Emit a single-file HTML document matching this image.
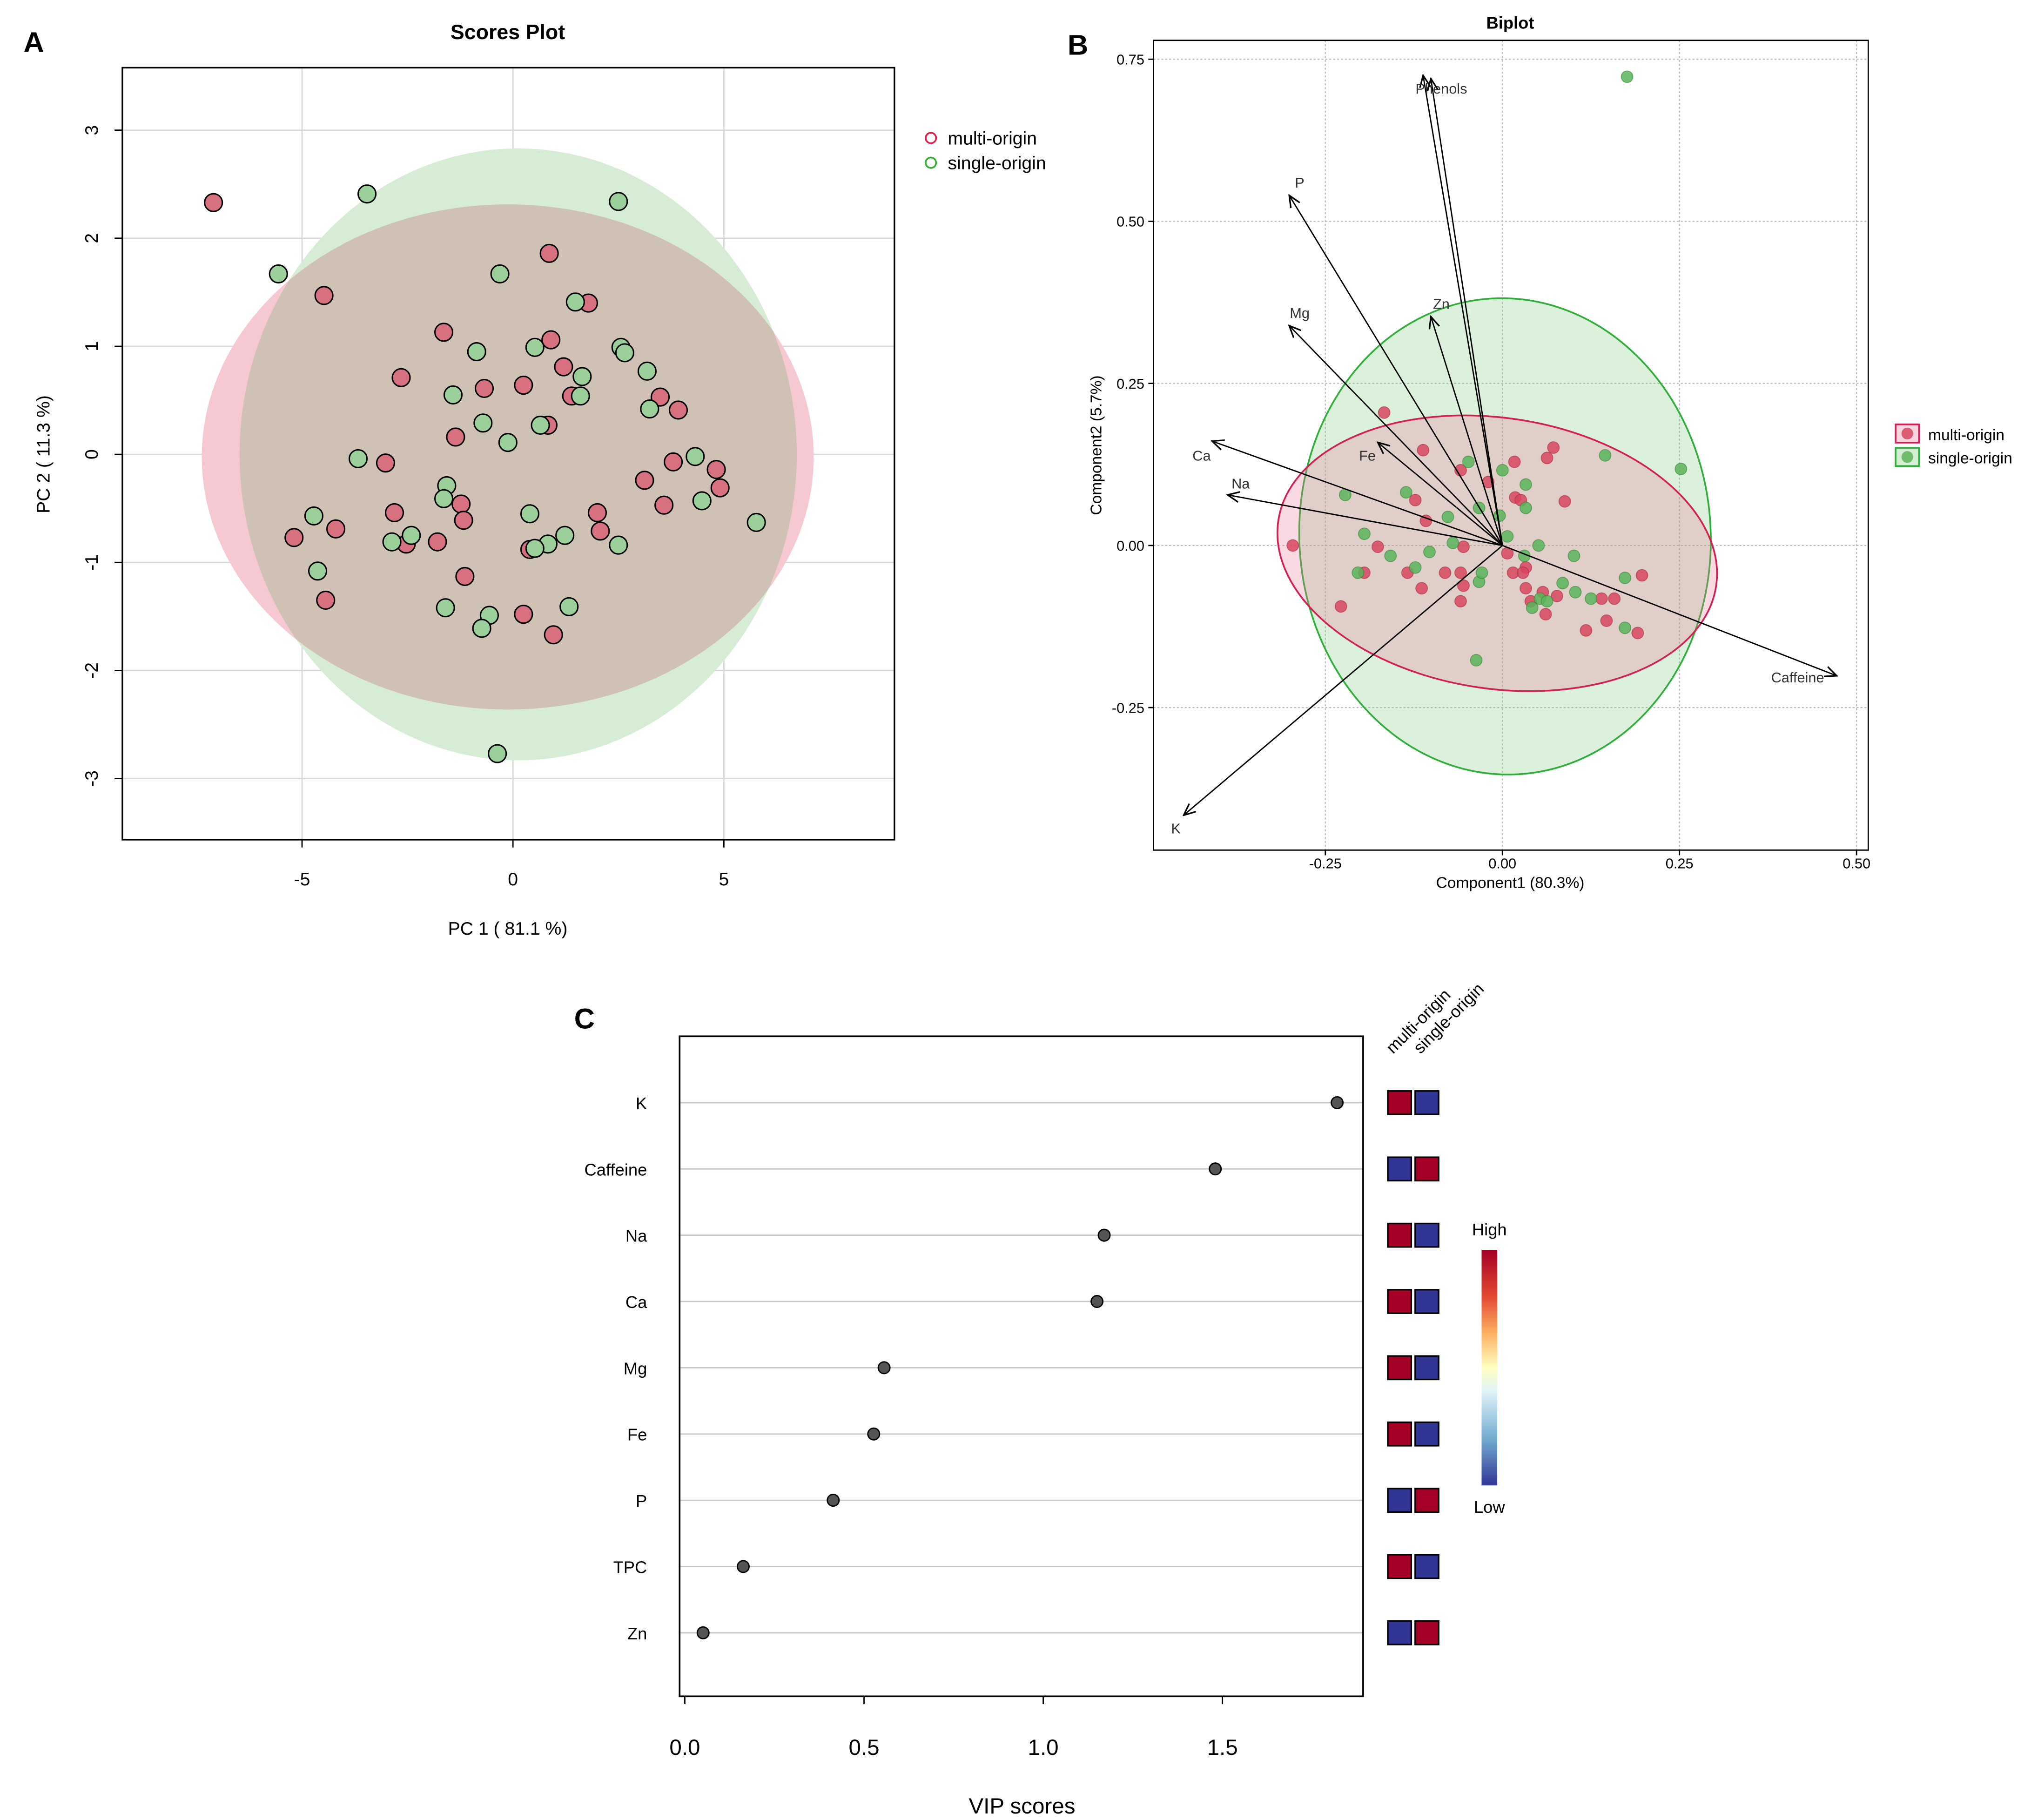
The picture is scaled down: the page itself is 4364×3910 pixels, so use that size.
<!DOCTYPE html>
<html><head><meta charset="utf-8"><style>
html,body{margin:0;padding:0;background:#fff}
svg{display:block;font-family:"Liberation Sans",sans-serif}
</style></head><body>
<svg id="fig" width="4364" height="3910" viewBox="0 0 1560 1398" preserveAspectRatio="none" xmlns="http://www.w3.org/2000/svg">
<defs>
<clipPath id="clipPink"><ellipse cx="390" cy="351" rx="235" ry="194"/></clipPath>
<clipPath id="clipA"><rect x="94" y="52" width="593" height="593"/></clipPath>
<linearGradient id="cbar" x1="0" y1="0" x2="0" y2="1">
<stop offset="0" stop-color="#a50026"/><stop offset="0.2" stop-color="#e34a33"/><stop offset="0.35" stop-color="#fdae61"/><stop offset="0.5" stop-color="#ffffbf"/><stop offset="0.6" stop-color="#e0f3f8"/><stop offset="0.8" stop-color="#74add1"/><stop offset="1" stop-color="#313695"/>
</linearGradient>
<marker id="arr" markerWidth="10" markerHeight="10" refX="9" refY="5" orient="auto" markerUnits="userSpaceOnUse"><path d="M0,1 L9,5 L0,9" fill="none" stroke="#000" stroke-width="1.2"/></marker>
</defs>
<g id="panelA"></g>
<g id="panelB"></g>
<g id="panelC"></g>
</svg>
<script>
// ---------- Panel A data ----------
const aMultiX=[-7.1,-4.48,-1.64,0.86,1.79,-2.65,-0.68,0.25,1.2,0.9,1.39,0.83,-1.36,-3.02,3.49,3.92,3.8,4.82,4.91,3.12,3.58,-2.81,-1.23,-1.17,-5.19,-4.2,-2.53,-1.79,2.0,2.07,0.4,-1.14,-4.44,0.25,0.96];
const aMultiY=[2.33,1.47,1.13,1.86,1.4,0.71,0.61,0.64,0.81,1.06,0.54,0.27,0.16,-0.08,0.53,0.41,-0.07,-0.14,-0.31,-0.24,-0.47,-0.54,-0.46,-0.61,-0.77,-0.69,-0.83,-0.81,-0.54,-0.71,-0.88,-1.13,-1.35,-1.48,-1.67];
const aSingleX=[-3.46,2.5,-5.56,-0.31,1.48,-0.86,0.52,2.56,2.65,3.18,1.64,1.6,-1.42,3.24,-0.71,0.65,-0.12,-3.67,-1.57,-1.64,4.32,4.48,5.77,-4.72,0.4,-2.41,-2.87,0.83,1.23,2.5,0.52,-4.63,-1.6,1.33,-0.56,-0.74,-0.37];
const aSingleY=[2.41,2.34,1.67,1.67,1.41,0.95,0.99,0.99,0.94,0.77,0.72,0.54,0.55,0.42,0.29,0.27,0.11,-0.04,-0.29,-0.41,-0.02,-0.43,-0.63,-0.57,-0.55,-0.75,-0.81,-0.83,-0.75,-0.84,-0.87,-1.08,-1.42,-1.41,-1.49,-1.61,-2.77];
const aXTicks=[-5,0,5];
const aYTicks=[-3,-2,-1,0,1,2,3];
// ---------- Panel B data ----------
const bMultiX=[-0.167,-0.112,-0.123,-0.108,-0.059,-0.020,0.017,0.063,0.072,0.088,0.018,0.026,-0.296,-0.195,-0.228,-0.176,-0.134,-0.114,-0.081,-0.055,-0.059,-0.055,-0.059,0.007,0.015,0.033,0.033,0.029,0.040,0.061,0.077,0.118,0.147,0.140,0.158,0.191,0.197,0.057];
const bMultiY=[0.205,0.147,0.070,0.038,0.116,0.098,0.129,0.135,0.151,0.068,0.074,0.070,0,-0.042,-0.094,-0.002,-0.042,-0.066,-0.042,-0.002,-0.042,-0.062,-0.086,-0.012,-0.042,-0.034,-0.066,-0.042,-0.086,-0.106,-0.078,-0.131,-0.116,-0.082,-0.082,-0.135,-0.046,-0.072];
const bSingleX=[0.176,0.252,0.145,-0.048,-0.222,-0.136,-0.077,-0.033,0,0.033,0.033,-0.004,-0.070,-0.195,-0.158,-0.103,0.051,0.101,0.031,0.085,0.103,0.173,0.125,0.053,0.042,0.063,0.173,-0.037,-0.204,-0.123,-0.033,-0.029,0.007];
const bSingleY=[0.723,0.118,0.139,0.129,0.078,0.082,0.044,0.058,0.116,0.094,0.058,0.046,0.004,0.018,-0.016,-0.010,0,-0.016,-0.016,-0.058,-0.072,-0.050,-0.082,-0.082,-0.096,-0.086,-0.127,-0.177,-0.042,-0.034,-0.056,-0.042,0.014];
const loadNames=["Phenols","TPC","P","Mg","Zn","Ca","Fe","Na","K","Caffeine"];
const loadX=[-0.112,-0.101,-0.301,-0.301,-0.101,-0.410,-0.176,-0.388,-0.450,0.472];
const loadY=[0.725,0.720,0.540,0.339,0.353,0.161,0.159,0.078,-0.416,-0.201];
const bXTicks=[-0.25,0,0.25,0.5];
const bXLabels=["-0.25","0.00","0.25","0.50"];
const bYTicks=[-0.25,0,0.25,0.5,0.75];
const bYLabels=["-0.25","0.00","0.25","0.50","0.75"];
// ---------- Panel C data ----------
const vipNames=["K","Caffeine","Na","Ca","Mg","Fe","P","TPC","Zn"];
const vipValues=[1.82,1.48,1.17,1.15,0.556,0.527,0.414,0.163,0.051];
const vipMultiHigh=[1,0,1,1,1,1,0,1,0];
const cXTicks=[0,0.5,1.0,1.5];
const cXLabels=["0.0","0.5","1.0","1.5"];

const NS="http://www.w3.org/2000/svg";
function mk(parent,tag,attrs,text){const e=document.createElementNS(NS,tag);for(const k in attrs)e.setAttribute(k,attrs[k]);if(text!==undefined)e.textContent=text;parent.appendChild(e);return e;}

// ===== Panel A =====
(function(){
const g=document.getElementById('panelA');
const sx=v=>394+v*32.4, sy=v=>349-v*83;
let t;
t=mk(g,'text',{x:18,y:40,'font-size':22,'font-weight':'bold'},'A');

t=mk(g,'text',{x:390,y:30,'font-size':16,'font-weight':'bold','text-anchor':'middle'},'Scores Plot');

const cg=mk(g,'g',{'clip-path':'url(#clipA)'});
aXTicks.forEach(v=>{const l=mk(cg,'line',{x1:sx(v),x2:sx(v),y1:52,y2:645,stroke:'#d8d8d8','stroke-width':1});});
aYTicks.forEach(v=>{const l=mk(cg,'line',{x1:94,x2:687,y1:sy(v),y2:sy(v),stroke:'#d8d8d8','stroke-width':1});});
let e=mk(cg,'ellipse',{cx:398,cy:349,rx:214,ry:235,fill:'#d6ecd4'});

e=mk(cg,'ellipse',{cx:390,cy:351,rx:235,ry:194,fill:'#f6c9d2'});

const ov=mk(cg,'g',{'clip-path':'url(#clipPink)'});
e=mk(ov,'ellipse',{cx:398,cy:349,rx:214,ry:235,fill:'#cfc1b3'});

aMultiX.forEach((v,i)=>{const c=mk(cg,'circle',{cx:sx(v),cy:sy(aMultiY[i]),r:6.8,fill:'#d7707f',stroke:'#000','stroke-width':1.1});});
aSingleX.forEach((v,i)=>{const c=mk(cg,'circle',{cx:sx(v),cy:sy(aSingleY[i]),r:6.8,fill:'#9bd09b',stroke:'#000','stroke-width':1.1});});
const fr=mk(g,'rect',{x:94,y:52,width:593,height:593,fill:'none',stroke:'#000','stroke-width':1.2});

aXTicks.forEach(v=>{mk(g,'line',{x1:sx(v),x2:sx(v),y1:645,y2:651,stroke:'#000'});const tt=mk(g,'text',{x:sx(v),y:680,'font-size':14,'text-anchor':'middle'},String(v));});
aYTicks.forEach(v=>{mk(g,'line',{x1:88,x2:94,y1:sy(v),y2:sy(v),stroke:'#000'});const tt=mk(g,'text',{x:0,y:0,'font-size':14,'text-anchor':'middle',transform:`translate(75,${sy(v)}) rotate(-90)`},String(v));});
t=mk(g,'text',{x:390,y:718,'font-size':14,'text-anchor':'middle'},'PC 1 ( 81.1 %)');

t=mk(g,'text',{x:0,y:0,'font-size':14,'text-anchor':'middle',transform:'translate(38,349) rotate(-90)'},'PC 2 ( 11.3 %)');

const lg=mk(g,'g',{});
let c=mk(lg,'circle',{cx:715,cy:106,r:4,fill:'none',stroke:'#e0204a','stroke-width':1.3});
t=mk(lg,'text',{x:728,y:111,'font-size':14},'multi-origin');
c=mk(lg,'circle',{cx:715,cy:125,r:4,fill:'none',stroke:'#30b030','stroke-width':1.3});
t=mk(lg,'text',{x:728,y:130,'font-size':14},'single-origin');
})();

// ===== Panel B =====
(function(){
const g=document.getElementById('panelB');
const sx=v=>1154+v*544, sy=v=>419-v*498;
let t;
t=mk(g,'text',{x:820,y:42,'font-size':22,'font-weight':'bold'},'B');

t=mk(g,'text',{x:1160,y:22,'font-size':13,'font-weight':'bold','text-anchor':'middle'},'Biplot');

bXTicks.forEach(v=>{const l=mk(g,'line',{x1:sx(v),x2:sx(v),y1:31,y2:653,stroke:'#bbb','stroke-width':0.8,'stroke-dasharray':'1.5,1.5'});});
bYTicks.forEach(v=>{const l=mk(g,'line',{x1:886,x2:1435,y1:sy(v),y2:sy(v),stroke:'#bbb','stroke-width':0.8,'stroke-dasharray':'1.5,1.5'});});
let e=mk(g,'ellipse',{cx:1156,cy:412,rx:158,ry:183,fill:'rgba(110,200,110,0.25)',stroke:'#2fae3a','stroke-width':1.3,transform:'rotate(-3 1156 412)'});

e=mk(g,'ellipse',{cx:1150,cy:425,rx:170,ry:104,fill:'rgba(235,120,150,0.28)',stroke:'#d42050','stroke-width':1.3,transform:'rotate(8.5 1150 425)'});

bMultiX.forEach((v,i)=>{const c=mk(g,'circle',{cx:sx(v),cy:sy(bMultiY[i]),r:4.5,fill:'rgba(215,70,95,0.85)',stroke:'rgba(170,40,60,0.6)','stroke-width':0.6});});
bSingleX.forEach((v,i)=>{const c=mk(g,'circle',{cx:sx(v),cy:sy(bSingleY[i]),r:4.5,fill:'rgba(90,180,90,0.85)',stroke:'rgba(50,130,50,0.6)','stroke-width':0.6});});
loadNames.forEach((n,i)=>{
  const l=mk(g,'line',{x1:sx(0),y1:sy(0),x2:sx(loadX[i]),y2:sy(loadY[i]),stroke:'#000','stroke-width':1,'marker-end':'url(#arr)'});
  
  if(n==='TPC')return;
  let dx=8,dy=-6,anchor='middle';
  if(n==='Phenols'){dx=14;dy=14;}
  if(n==='K'){dx=-6;dy=14;}
  if(n==='Caffeine'){dx=-30;dy=5;}
  if(n==='Ca'){dx=-8;dy=15;}
  if(n==='Na'){dx=10;dy=-5;}
  if(n==='Fe'){dx=-8;dy=14;}
  const tt=mk(g,'text',{x:sx(loadX[i])+dx,y:sy(loadY[i])+dy,'font-size':11,fill:'#333','text-anchor':anchor},n);
  
});
const fr=mk(g,'rect',{x:886,y:31,width:549,height:622,fill:'none',stroke:'#000','stroke-width':1});

bXTicks.forEach((v,i)=>{mk(g,'line',{x1:sx(v),x2:sx(v),y1:653,y2:657,stroke:'#000'});const tt=mk(g,'text',{x:sx(v),y:667,'font-size':11,'text-anchor':'middle'},bXLabels[i]);});
bYTicks.forEach((v,i)=>{mk(g,'line',{x1:882,x2:886,y1:sy(v),y2:sy(v),stroke:'#000'});const tt=mk(g,'text',{x:879,y:sy(v)+4,'font-size':11,'text-anchor':'end'},bYLabels[i]);});
t=mk(g,'text',{x:1160,y:682,'font-size':12,'text-anchor':'middle'},'Component1 (80.3%)');

t=mk(g,'text',{x:0,y:0,'font-size':12,'text-anchor':'middle',transform:'translate(846,342) rotate(-90)'},'Component2 (5.7%)');

const lg=mk(g,'g',{});
mk(lg,'rect',{x:1456,y:326,width:18,height:14,fill:'rgba(235,120,150,0.3)',stroke:'#d42050','stroke-width':1.3});
mk(lg,'circle',{cx:1465,cy:333,r:4.5,fill:'rgba(215,70,95,0.85)'});
t=mk(lg,'text',{x:1481,y:338,'font-size':12},'multi-origin');
mk(lg,'rect',{x:1456,y:344,width:18,height:14,fill:'rgba(110,200,110,0.3)',stroke:'#2fae3a','stroke-width':1.3});
mk(lg,'circle',{cx:1465,cy:351,r:4.5,fill:'rgba(90,180,90,0.85)'});
t=mk(lg,'text',{x:1481,y:356,'font-size':12},'single-origin');
})();

// ===== Panel C =====
(function(){
const g=document.getElementById('panelC');
const sx=v=>526+v*275.3, sy=i=>847+i*50.9;
let t;
t=mk(g,'text',{x:441,y:790,'font-size':22,'font-weight':'bold'},'C');

vipNames.forEach((n,i)=>{
  const l=mk(g,'line',{x1:522,x2:1047,y1:sy(i),y2:sy(i),stroke:'#c8c8c8','stroke-width':1});
  
  const tt=mk(g,'text',{x:497,y:sy(i)+5,'font-size':13,'text-anchor':'end'},n);
  
  const c=mk(g,'circle',{cx:sx(vipValues[i]),cy:sy(i),r:4.5,fill:'#555',stroke:'#000','stroke-width':1});
  
  const hi='#a50026',lo='#313695';
  const r1=mk(g,'rect',{x:1066,y:sy(i)-9,width:18,height:18,fill:vipMultiHigh[i]?hi:lo,stroke:'#000','stroke-width':1.2});
  
  const r2=mk(g,'rect',{x:1087,y:sy(i)-9,width:18,height:18,fill:vipMultiHigh[i]?lo:hi,stroke:'#000','stroke-width':1.2});
  
});
const fr=mk(g,'rect',{x:522,y:796,width:525,height:507,fill:'none',stroke:'#000','stroke-width':1.3});

cXTicks.forEach((v,i)=>{mk(g,'line',{x1:sx(v),x2:sx(v),y1:1303,y2:1309,stroke:'#000'});const tt=mk(g,'text',{x:sx(v),y:1348,'font-size':17,'text-anchor':'middle'},cXLabels[i]);});
t=mk(g,'text',{x:785,y:1393,'font-size':17,'text-anchor':'middle'},'VIP scores');

t=mk(g,'text',{x:0,y:0,'font-size':13,transform:'translate(1070,810) rotate(-45)'},'multi-origin');

t=mk(g,'text',{x:0,y:0,'font-size':13,transform:'translate(1091,810) rotate(-45)'},'single-origin');

const cb=mk(g,'rect',{x:1138,y:960,width:12,height:181,fill:'url(#cbar)'});

t=mk(g,'text',{x:1144,y:949,'font-size':13,'text-anchor':'middle'},'High');

t=mk(g,'text',{x:1144,y:1162,'font-size':13,'text-anchor':'middle'},'Low');

})();
</script>
</body></html>
